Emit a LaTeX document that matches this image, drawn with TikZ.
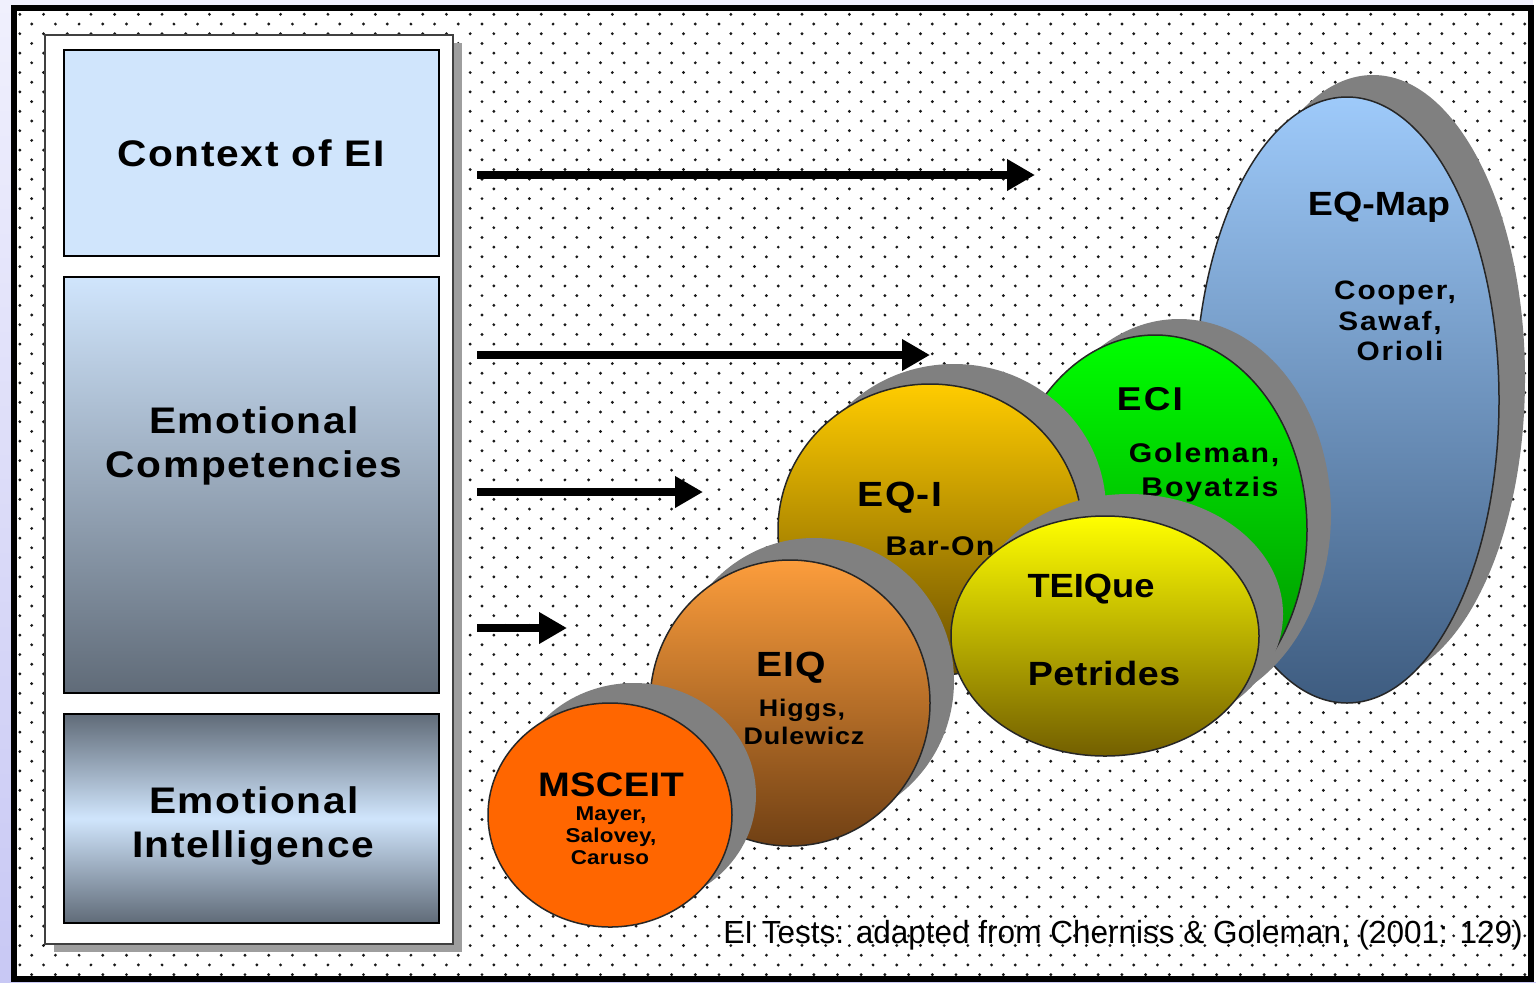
\documentclass[tikz,border=0pt]{standalone}
\usepackage{graphicx}
\usepackage{fontspec}
\setmainfont{Liberation Sans}
\usetikzlibrary{shapes.geometric,shadows,arrows.meta}
\definecolor{lavT}{RGB}{240,240,253}
\definecolor{lavB}{RGB}{200,200,244}
\definecolor{dotc}{RGB}{25,25,25}
\definecolor{boxblue}{RGB}{208,229,252}
\definecolor{slate}{RGB}{96,107,120}
\definecolor{shgray}{RGB}{128,128,128}
\definecolor{mapT}{RGB}{158,202,250}
\definecolor{mapB}{RGB}{62,92,128}
\definecolor{eciT}{RGB}{0,255,0}
\definecolor{eciB}{RGB}{0,130,0}
\definecolor{eqiT}{RGB}{255,204,0}
\definecolor{eqiB}{RGB}{105,78,0}
\definecolor{teiT}{RGB}{255,255,0}
\definecolor{teiB}{RGB}{115,95,0}
\definecolor{eiqT}{RGB}{252,157,60}
\definecolor{eiqB}{RGB}{112,64,20}
\definecolor{msc}{RGB}{255,102,0}
% size, letter spacing, horizontal scale, text
\newcommand{\lbl}[4]{\scalebox{#3}[1]{\fontsize{#1}{#1}\selectfont\bfseries\addfontfeature{LetterSpace=#2}#4}}
\begin{document}
\begin{tikzpicture}[x=0.5pt,y=-0.5pt,
  lab/.style={anchor=base,inner sep=0pt,outer sep=0pt},
  box/.style={rectangle,draw=black,line width=1.25pt,inner sep=0pt,minimum width=187.5pt},
  panel/.style={rectangle,draw=black!75,line width=1pt,fill=white,inner sep=0pt,
    minimum width=204pt,minimum height=454.5pt,
    general shadow={fill=black!38,shadow xshift=4.5pt,shadow yshift=-4pt}},
  ell/.style={ellipse,draw=black!85,line width=0.75pt,inner sep=0pt},
  arr/.style={line width=4.3pt,-{Triangle[length=14pt,width=15pt]}}
]
\useasboundingbox (0,0) rectangle (1536,982);
% background
\shade[top color=lavT,bottom color=lavB] (0,0) rectangle (1536,982);
\fill[white] (1533,0) rectangle (1536,982);
\fill[white] (13.5,7.5) rectangle (1530.5,979);
% dots
\begin{scope}
\clip (16,10) rectangle (1528,976);
\foreach \j in {0,...,100}{
  \fill[dotc] \foreach \i in {0,...,64}{ ({8+23.7*\i+11.85*mod(\j,2)},{4.6+9.7*\j}) circle[radius=0.8pt] };
}
\end{scope}
\draw[line width=3pt] (13.5,7.5) rectangle (1530.5,979);

% left panel
\node[panel] (panel) at (249,489.5) {};
\node[box,fill=boxblue,minimum height=103pt] (b1) at (251.5,153) {};
\node[box,top color=boxblue,bottom color=slate,minimum height=208pt] (b2) at (251.5,485) {};
\node[box,top color=slate,bottom color=slate,middle color=boxblue,minimum height=104.5pt] (b3) at (251.5,818.5) {};
\node[lab] (tctx) at (251,166) {\lbl{18.5}{4}{1.1}{Context of EI}};
\node[lab] (tec1) at (254,433) {\lbl{18.5}{4}{1.1}{Emotional}};
\node[lab] (tec2) at (254,477) {\lbl{18.5}{4}{1.1}{Competencies}};
\node[lab] (tei1) at (254,813) {\lbl{18.5}{4}{1.1}{Emotional}};
\node[lab] (tei2) at (253,857) {\lbl{18.5}{4}{1.1}{Intelligence}};

% arrows
\coordinate (a1s) at (477,175); \coordinate (a1e) at (1035,175);
\coordinate (a2s) at (477,355); \coordinate (a2e) at (930,355);
\coordinate (a3s) at (477,492); \coordinate (a3e) at (703,492);
\coordinate (a4s) at (477,628); \coordinate (a4e) at (567,628);
\draw[arr] (a1s) -- (a1e);
\draw[arr] (a2s) -- (a2e);
\draw[arr] (a3s) -- (a3e);
\draw[arr] (a4s) -- (a4e);

% ellipses
\node[ell,minimum width=152pt,minimum height=303pt,top color=mapT,bottom color=mapB,
  general shadow={fill=shgray,shadow xshift=13pt,shadow yshift=11pt}] (eqmap) at (1347,400) {};
\node[lab] (teqm) at (1379,215) {\lbl{16.8}{0}{1.12}{EQ-Map}};
\node[lab] (tcoo) at (1395,299) {\lbl{13.3}{6}{1.12}{Cooper,}};
\node[lab] (tsaw) at (1390,330) {\lbl{13.3}{6}{1.12}{Sawaf,}};
\node[lab] (tori) at (1400,360) {\lbl{13.3}{6}{1.12}{Orioli}};

\node[ell,minimum width=152pt,minimum height=195pt,top color=eciT,bottom color=eciB,
  general shadow={fill=shgray,shadow xshift=12pt,shadow yshift=8pt}] (eci) at (1155,530) {};
\node[lab] (teci) at (1150,410) {\lbl{16.5}{6}{1.12}{ECI}};
\node[lab] (tgol) at (1204,462) {\lbl{13.5}{6}{1.12}{Goleman,}};
\node[lab] (tboy) at (1210,496) {\lbl{13.5}{6}{1.12}{Boyatzis}};

\node[ell,minimum width=152pt,minimum height=146pt,top color=eqiT,bottom color=eqiB,
  general shadow={fill=shgray,shadow xshift=12pt,shadow yshift=10pt}] (eqi) at (930,530) {};
\node[lab] (teqi) at (900,506) {\lbl{17.5}{3}{1.12}{EQ-I}};
\node[lab] (tbar) at (940,555) {\lbl{13.5}{4}{1.12}{Bar-On}};

\node[ell,minimum width=140pt,minimum height=143pt,top color=eiqT,bottom color=eiqB,
  general shadow={fill=shgray,shadow xshift=12pt,shadow yshift=11pt}] (eiq) at (790,703) {};
\node[lab] (teiq) at (791,676) {\lbl{17.5}{2}{1.12}{EIQ}};
\node[lab] (thig) at (802,716) {\lbl{12}{3}{1.12}{Higgs,}};
\node[lab] (tdul) at (804,744) {\lbl{12}{3}{1.12}{Dulewicz}};

\node[ell,minimum width=154pt,minimum height=120pt,top color=teiT,bottom color=teiB,
  general shadow={fill=shgray,shadow xshift=12pt,shadow yshift=11pt}] (tei) at (1105,636) {};
\node[lab] (ttei) at (1091,597) {\lbl{16.8}{0}{1.08}{TEIQue}};
\node[lab] (tpet) at (1104,685) {\lbl{16.8}{1.5}{1.12}{Petrides}};

\node[ell,minimum width=122pt,minimum height=112pt,fill=msc,
  general shadow={fill=shgray,shadow xshift=12pt,shadow yshift=10pt}] (msceit) at (610,815) {};
\node[lab] (tmsc) at (611,796) {\lbl{17}{1}{1.12}{MSCEIT}};
\node[lab] (tmay) at (611,820) {\lbl{10}{1}{1.12}{Mayer,}};
\node[lab] (tsal) at (611,842) {\lbl{10}{1}{1.12}{Salovey,}};
\node[lab] (tcar) at (610,864) {\lbl{10}{1}{1.12}{Caruso}};

% caption
\node[lab] (cap) at (1123,943) {\scalebox{0.985}[1]{\fontsize{16}{16}\selectfont EI Tests: adapted from Cherniss \& Goleman, (2001: 129)}};
\end{tikzpicture}
\end{document}
